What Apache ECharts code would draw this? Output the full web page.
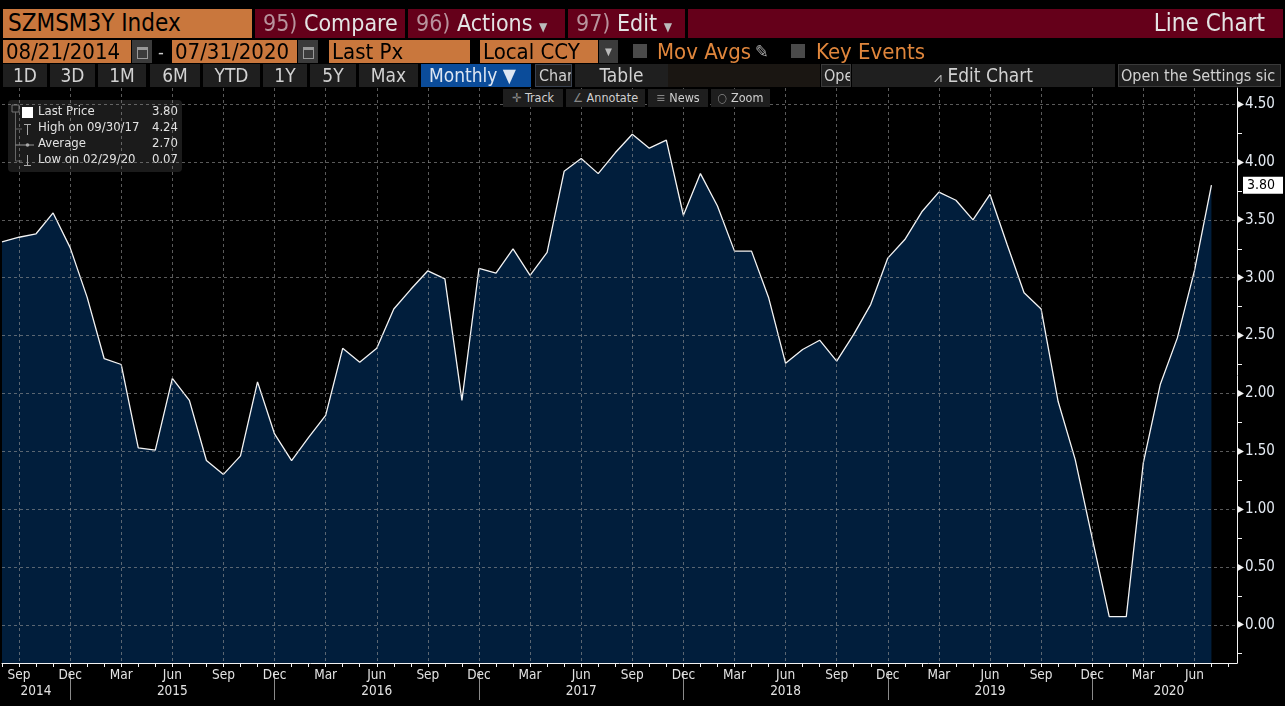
<!DOCTYPE html>
<html>
<head>
<meta charset="utf-8">
<script src="https://cdn.jsdelivr.net/npm/echarts@6/dist/echarts.min.js"></script>
<style>
  html, body { margin: 0; padding: 0; background: #000; width: 1285px; height: 706px; overflow: hidden; }
  body { font-family: "Liberation Sans Narrow", "DejaVu Sans Condensed", "Roboto Condensed", "Liberation Sans", sans-serif; }
  #chart { position: absolute; left: 0; top: 0; width: 1285px; height: 706px; }
  .b { position: absolute; box-sizing: border-box; white-space: nowrap; overflow: hidden; z-index: 5; }
  .org { background: #c9773d; color: #000; }
  .mar { background: #65001a; color: #e4e4e4; }
  .num { color: #b8939d; }
  .btn { background: #1f1f1f; color: #d2d2d2; text-align: center; }
  .tool { background: #1e1e1e; color: #d0d0d0; font-size: 12.5px; line-height: 18px; text-align: center; }
  .ico { background: #3b3b3b; }
  .chk { background: #4a4a4a; }
</style>
</head>
<body>
<div id="chart"></div>

<!-- header row 1 -->
<div class="b org" style="left:3px;top:9px;width:249px;height:29px;font-size:24px;line-height:29px;padding-left:5px;">SZMSM3Y Index</div>
<div class="b mar" style="left:255px;top:9px;width:150px;height:29px;font-size:23px;line-height:29px;padding-left:8px;"><span class="num">95)</span> Compare</div>
<div class="b mar" style="left:408px;top:9px;width:157px;height:29px;font-size:23px;line-height:29px;padding-left:8px;"><span class="num">96)</span> Actions <span style="font-size:12px;color:#bbb">▼</span></div>
<div class="b mar" style="left:568px;top:9px;width:117px;height:29px;font-size:23px;line-height:29px;padding-left:8px;"><span class="num">97)</span> Edit <span style="font-size:12px;color:#bbb">▼</span></div>
<div class="b mar" style="left:688px;top:9px;width:595px;height:29px;font-size:24px;line-height:29px;text-align:right;padding-right:18px;">Line Chart</div>

<!-- header row 2 -->
<div class="b org" style="left:3px;top:40px;width:128px;height:23px;font-size:22px;line-height:23px;padding-left:3px;">08/21/2014</div>
<div class="b ico" style="left:132px;top:40px;width:20px;height:23px;"><div style="position:absolute;left:5px;top:7px;width:9px;height:8px;border:1px solid #999;border-top-width:3px;"></div></div>
<div class="b" style="left:158px;top:40px;width:12px;height:23px;color:#ccc;font-size:18px;line-height:23px;">-</div>
<div class="b org" style="left:172px;top:40px;width:125px;height:23px;font-size:22px;line-height:23px;padding-left:3px;">07/31/2020</div>
<div class="b ico" style="left:298px;top:40px;width:20px;height:23px;"><div style="position:absolute;left:5px;top:7px;width:9px;height:8px;border:1px solid #999;border-top-width:3px;"></div></div>
<div class="b org" style="left:329px;top:40px;width:141px;height:23px;font-size:22px;line-height:23px;padding-left:3px;">Last Px</div>
<div class="b org" style="left:480px;top:40px;width:118px;height:23px;font-size:22px;line-height:23px;padding-left:3px;">Local CCY</div>
<div class="b ico" style="left:599px;top:40px;width:19px;height:23px;color:#bbb;font-size:10px;line-height:23px;text-align:center;">▼</div>
<div class="b chk" style="left:633px;top:44px;width:14px;height:14px;"></div>
<div class="b" style="left:657px;top:40px;width:100px;height:23px;color:#e0863c;font-size:22px;line-height:23px;">Mov Avgs</div>
<div class="b" style="left:755px;top:40px;width:22px;height:23px;color:#aaa;font-size:18px;line-height:23px;">✎</div>
<div class="b chk" style="left:791px;top:44px;width:14px;height:14px;"></div>
<div class="b" style="left:816px;top:40px;width:120px;height:23px;color:#e0863c;font-size:22px;line-height:23px;">Key Events</div>

<!-- header row 3 -->
<div class="b btn" style="left:3px;top:64px;width:44px;height:23px;font-size:19px;line-height:23px;">1D</div>
<div class="b btn" style="left:50px;top:64px;width:45px;height:23px;font-size:19px;line-height:23px;">3D</div>
<div class="b btn" style="left:98px;top:64px;width:48px;height:23px;font-size:19px;line-height:23px;">1M</div>
<div class="b btn" style="left:150px;top:64px;width:50px;height:23px;font-size:19px;line-height:23px;">6M</div>
<div class="b btn" style="left:203px;top:64px;width:57px;height:23px;font-size:19px;line-height:23px;">YTD</div>
<div class="b btn" style="left:263px;top:64px;width:44px;height:23px;font-size:19px;line-height:23px;">1Y</div>
<div class="b btn" style="left:310px;top:64px;width:46px;height:23px;font-size:19px;line-height:23px;">5Y</div>
<div class="b btn" style="left:359px;top:64px;width:59px;height:23px;font-size:19px;line-height:23px;">Max</div>
<div class="b" style="left:421px;top:64px;width:110px;height:23px;background:#0b4c9a;color:#dde6f2;font-size:19px;line-height:23px;padding-left:8px;">Monthly ▼</div>
<div class="b btn" style="left:535px;top:64px;width:37px;height:23px;font-size:16px;line-height:21px;border:1px solid #3a4250;text-align:left;padding-left:3px;">Char</div>
<div class="b btn" style="left:575px;top:64px;width:93px;height:23px;font-size:19px;line-height:23px;">Table</div>
<div class="b" style="left:668px;top:64px;width:152px;height:23px;background:#1a1612;"></div>
<div class="b btn" style="left:821px;top:64px;width:30px;height:23px;font-size:16px;line-height:21px;border:1px solid #3a3a3a;text-align:left;padding-left:2px;">Ope</div>
<div class="b btn" style="left:852px;top:64px;width:263px;height:23px;font-size:19px;line-height:23px;"><span style="font-size:14px;color:#bbb">⩘</span> Edit Chart</div>
<div class="b btn" style="left:1118px;top:64px;width:163px;height:23px;font-size:16px;line-height:21px;border:1px solid #3a3a3a;text-align:left;padding-left:2px;">Open the Settings sic</div>

<!-- chart toolbar -->
<div class="b tool" style="left:503px;top:89px;width:60px;height:18px;"><span style="color:#888">✛</span> Track</div>
<div class="b tool" style="left:566px;top:89px;width:79px;height:18px;"><span style="color:#888">∠</span> Annotate</div>
<div class="b tool" style="left:648px;top:89px;width:60px;height:18px;"><span style="color:#888">≡</span> News</div>
<div class="b tool" style="left:711px;top:89px;width:59px;height:18px;"><span style="color:#888">○</span> Zoom</div>

<script>
// monthly last price, Aug 2014 .. Jul 2020
const startYear = 2014;
const startMonth = 8;
const monthAbbr = ['Jan', 'Feb', 'Mar', 'Apr', 'May', 'Jun', 'Jul', 'Aug', 'Sep', 'Oct', 'Nov', 'Dec'];
const lastPx = [
  3.31, 3.35, 3.38, 3.56, 3.26, 2.83, 2.30, 2.25, 1.53, 1.51,
  2.13, 1.94, 1.42, 1.30, 1.46, 2.10, 1.65, 1.42, 1.62, 1.81,
  2.39, 2.27, 2.39, 2.73, 2.90, 3.06, 2.99, 1.94, 3.08, 3.04,
  3.25, 3.02, 3.22, 3.92, 4.03, 3.90, 4.08, 4.24, 4.12, 4.19,
  3.54, 3.90, 3.62, 3.23, 3.23, 2.83, 2.26, 2.38, 2.46, 2.28,
  2.51, 2.77, 3.17, 3.33, 3.57, 3.74, 3.67, 3.50, 3.72, 3.29,
  2.87, 2.73, 1.93, 1.43, 0.75, 0.07, 0.07, 1.40, 2.08, 2.48,
  3.06, 3.80
];
// year labels sit at these half-month slots
const yearLabelSlots = [4, 20, 44, 68, 92, 116, 137];
const yTickLabels = [0, 0.5, 1, 1.5, 2, 2.5, 3, 3.5, 4, 4.5];
const legendRows = [
  ['Last Price', '3.80'],
  ['High on 09/30/17', '4.24'],
  ['Average', '2.70'],
  ['Low on 02/29/20', '0.07']
];

const FONT = '"Liberation Sans Narrow", "DejaVu Sans Condensed", "Roboto Condensed", "Liberation Sans", sans-serif';

// half-month slots so the axis can run half a month past the last point
const slots = [];
for (let k = 0; k < 146; k++) {
  const m = Math.floor(k / 2) + startMonth - 1;
  slots.push((startYear + Math.floor(m / 12)) + '-' + monthAbbr[m % 12] + (k % 2 ? '+' : ''));
}
const seriesData = lastPx.map((v, i) => [i * 2, v]);

const chart = echarts.init(document.getElementById('chart'));

const legendChildren = [
  { type: 'rect', shape: { x: 0, y: 0, width: 174, height: 72, r: 4 }, style: { fill: '#1b1b1b' } },
  { type: 'rect', shape: { x: 4, y: 5, width: 7, height: 7 }, style: { fill: 'none', stroke: '#777', lineWidth: 1 } },
  { type: 'line', shape: { x1: 7.5, y1: 12, x2: 7.5, y2: 61 }, style: { stroke: '#666', lineWidth: 1 } },
  { type: 'rect', shape: { x: 14, y: 7, width: 11, height: 11 }, style: { fill: '#fff' } },
  { type: 'line', shape: { x1: 7.5, y1: 29, x2: 14, y2: 29 }, style: { stroke: '#666' } },
  { type: 'line', shape: { x1: 19.5, y1: 24, x2: 19.5, y2: 35 }, style: { stroke: '#aaa' } },
  { type: 'line', shape: { x1: 16, y1: 24.5, x2: 23, y2: 24.5 }, style: { stroke: '#aaa' } },
  { type: 'line', shape: { x1: 7.5, y1: 45, x2: 26, y2: 45 }, style: { stroke: '#999' } },
  { type: 'circle', shape: { cx: 19.5, cy: 45, r: 1.8 }, style: { fill: '#aaa' } },
  { type: 'line', shape: { x1: 7.5, y1: 61, x2: 14, y2: 61 }, style: { stroke: '#666' } },
  { type: 'line', shape: { x1: 19.5, y1: 55, x2: 19.5, y2: 66 }, style: { stroke: '#aaa' } },
  { type: 'line', shape: { x1: 16, y1: 65.5, x2: 23, y2: 65.5 }, style: { stroke: '#aaa' } }
];
legendRows.forEach((row, i) => {
  legendChildren.push({
    type: 'text', x: 30, y: 12 + i * 16,
    style: { text: row[0], fill: '#e2e2e2', font: '13px ' + FONT, textVerticalAlign: 'middle' }
  });
  legendChildren.push({
    type: 'text', x: 170, y: 12 + i * 16,
    style: { text: row[1], fill: '#e2e2e2', font: '13px ' + FONT, textAlign: 'right', textVerticalAlign: 'middle' }
  });
});

chart.setOption({
  backgroundColor: '#000',
  animation: false,
  textStyle: { fontFamily: FONT },
  grid: { left: 2, right: 48, top: 88, bottom: 43 },
  xAxis: [
    {
      type: 'category',
      data: slots,
      boundaryGap: false,
      z: 3,
      axisLine: { onZero: false, lineStyle: { color: '#f2f2f2', width: 1 } },
      axisTick: { interval: (i) => i % 2 === 0, length: 4, lineStyle: { color: '#f2f2f2' } },
      axisLabel: {
        interval: (i) => i % 6 === 2,
        formatter: (v) => v.split('-')[1],
        color: '#e2e2e2', fontSize: 13.5, margin: 5
      },
      splitLine: {
        show: true,
        interval: (i) => i % 6 === 2,
        lineStyle: { color: 'rgba(150,150,150,0.6)', type: [3, 3], width: 1 }
      }
    },
    {
      type: 'category',
      data: slots,
      boundaryGap: false,
      position: 'bottom',
      offset: 9,
      axisLine: { show: false, onZero: false },
      axisTick: { interval: (i) => i % 24 === 8, length: 28, lineStyle: { color: '#8a8a8a' } },
      axisLabel: {
        interval: (i) => yearLabelSlots.indexOf(i) >= 0,
        formatter: (v) => v.split('-')[0],
        color: '#e2e2e2', fontSize: 13.5, margin: 12
      },
      splitLine: { show: false }
    }
  ],
  yAxis: {
    type: 'value',
    position: 'right',
    min: -0.33,
    max: 4.64,
    splitNumber: 10,
    z: 3,
    axisLine: { show: true, lineStyle: { color: '#f2f2f2' } },
    axisTick: { show: false },
    minorTick: { show: true, splitNumber: 2, length: 5, lineStyle: { color: '#f2f2f2' } },
    axisLabel: {
      margin: 0,
      showMinLabel: false,
      showMaxLabel: false,
      formatter: (v) => {
        const hit = yTickLabels.find((t) => Math.abs(t - v) < 1e-6);
        return hit === undefined ? '' : '{t|▶}{v|' + hit.toFixed(2) + '}';
      },
      rich: {
        t: { fontSize: 10, color: '#f2f2f2', padding: [0, 1, 0, 0] },
        v: { fontSize: 15, color: '#e4eaf2' }
      }
    },
    splitLine: {
      show: true,
      showMinLine: false,
      showMaxLine: false,
      lineStyle: { color: 'rgba(150,150,150,0.6)', type: [3, 3], width: 1 }
    }
  },
  series: [{
    type: 'line',
    data: seriesData,
    symbol: 'none',
    z: 2,
    lineStyle: { color: '#f4f4f4', width: 1.3 },
    areaStyle: { color: '#011e3c', opacity: 1, origin: 'start' },
    markLine: {
      silent: true,
      symbol: 'none',
      animation: false,
      lineStyle: { color: 'transparent', width: 1 },
      data: [{ yAxis: lastPx[lastPx.length - 1] }],
      label: {
        show: true,
        position: 'end',
        distance: 6,
        formatter: (p) => p.value.toFixed(2),
        backgroundColor: '#ffffff',
        color: '#000',
        fontSize: 14,
        padding: [2, 8, 1, 4]
      }
    }
  }],
  graphic: [{ type: 'group', left: 8, top: 100, z: 10, children: legendChildren }]
});
</script>
</body>
</html>
